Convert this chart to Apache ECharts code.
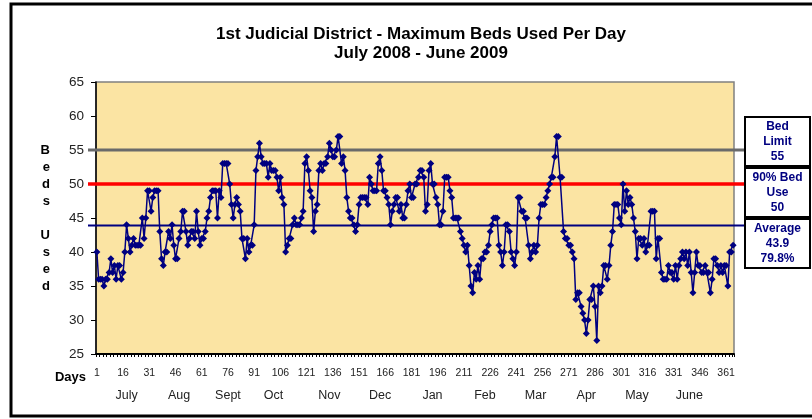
<!DOCTYPE html>
<html>
<head>
<meta charset="utf-8">
<script src="https://cdn.jsdelivr.net/npm/echarts@6/dist/echarts.min.js"></script>
<style>
  html, body { margin: 0; padding: 0; background: #fff; }
  #chart { width: 812px; height: 419px; }
</style>
</head>
<body>
<div id="chart"></div>
<script>
// daily maximum beds used, one array per month (July 2008 - June 2009)
var july  = [40,36,36,36,35,36,36,37,39,37,38,36,38,38,36,37,40,44,42,40,41,42,41,41,41,41,45,42,45,49,49];
var aug   = [46,48,49,49,49,43,39,38,40,40,43,42,44,41,39,39,42,43,46,46,43,41,42,43,43,42,46,43,41,42,42];
var sept  = [43,45,46,48,49,49,49,45,49,48,53,53,53,53,50,47,45,47,48,47,46,42,42,39,42,40,41,41,44,52];
var oct   = [54,56,54,53,53,53,51,53,52,52,52,51,49,51,48,47,40,41,42,42,44,45,44,44,44,45,46,53,54,52,49];
var nov   = [48,43,46,47,52,53,52,53,53,54,56,55,54,54,55,57,57,53,54,52,48,46,45,45,44,43,44,47,48,48];
var dec   = [48,48,47,51,50,49,49,49,53,54,52,49,49,48,47,44,46,47,48,48,46,47,45,45,47,49,50,48,48,50,50];
var jan   = [51,52,52,51,46,47,52,53,50,50,48,47,44,44,46,51,51,51,49,48,45,45,45,45,43,42,41,40,41,38,35];
var feb   = [34,37,36,38,36,39,39,40,40,41,43,44,45,45,45,41,40,38,40,44,44,43,40,39,38,40,48,48];
var mar   = [46,46,45,45,41,39,40,41,40,41,45,47,47,47,48,49,50,51,51,54,57,57,51,51,43,42,42,41,41,40,39];
var apr   = [33,34,34,32,31,30,28,30,33,33,35,32,27,35,34,35,38,38,36,38,41,43,47,47,47,45,44,50,46,49];
var may   = [47,48,47,45,43,39,42,42,41,42,40,41,41,46,46,46,39,42,42,37,36,36,36,38,37,37,36,38,36,38,39];
var june  = [40,39,40,38,40,37,34,37,40,38,38,37,37,38,37,37,34,36,39,39,38,37,38,37,38,38,35,40,40,41];

// month names and the day index under which each one sits
var monthNames = ['July','Aug','Sept','Oct','Nov','Dec','Jan','Feb','Mar','Apr','May','June'];
var monthLabelIdx = [17,47,75,101,133,162,192,222,251,280,309,339];

// reference levels
var bedLimit = 55;
var bedUse90 = 50;
var avgBeds = 43.9;
var avgPct = '79.8%';

var beds = [].concat(july, aug, sept, oct, nov, dec, jan, feb, mar, apr, may, june);
var days = beds.map(function (v, i) { return String(i + 1); });

var FONT = '"Liberation Sans", Arial, sans-serif';
var NAVY = '#000080';

var chart = echarts.init(document.getElementById('chart'), null, { renderer: 'canvas' });

var option = {
  animation: false,
  backgroundColor: '#ffffff',
  title: {
    text: '1st Judicial District - Maximum Beds Used Per Day\nJuly 2008 - June 2009',
    left: 416,
    textAlign: 'center',
    top: 20,
    textStyle: { fontFamily: FONT, fontSize: 17, fontWeight: 'bold', color: '#000', lineHeight: 19 }
  },
  grid: {
    left: 96, right: 78, top: 82, bottom: 65,
    show: true,
    backgroundColor: '#fbe4a3',
    borderColor: '#808080',
    borderWidth: 1.5
  },
  xAxis: [{
    type: 'category',
    data: days,
    boundaryGap: true,
    name: 'Days',
    nameLocation: 'start',
    nameGap: 10,
    nameTextStyle: { fontFamily: FONT, fontSize: 13, fontWeight: 'bold', color: '#000',
      verticalAlign: 'top', padding: [17, 0, 0, 0] },
    axisLine: { lineStyle: { color: '#000', width: 2 } },
    axisTick: { show: true, interval: 1, length: 3, lineStyle: { color: '#000' } },
    axisLabel: { interval: 14, margin: 14, fontFamily: FONT, fontSize: 10.5, color: '#222' },
    splitLine: { show: false }
  }, {
    type: 'category',
    data: days,
    boundaryGap: true,
    position: 'bottom',
    offset: 23,
    axisLine: { show: false },
    axisTick: { show: false },
    axisLabel: {
      margin: 12,
      fontFamily: FONT, fontSize: 12.5, color: '#222',
      interval: function (idx) { return monthLabelIdx.indexOf(idx) >= 0; },
      formatter: function (val, idx) {
        var k = monthLabelIdx.indexOf(idx);
        return k >= 0 ? monthNames[k] : '';
      }
    },
    splitLine: { show: false }
  }],
  yAxis: {
    type: 'value',
    min: 25, max: 65, interval: 5,
    name: 'B\ne\nd\ns\n\nU\ns\ne\nd',
    nameLocation: 'middle',
    nameRotate: 0,
    nameGap: 46,
    nameTextStyle: { fontFamily: FONT, fontSize: 13, fontWeight: 'bold', color: '#000', lineHeight: 17 },
    axisLine: { show: true, lineStyle: { color: '#000', width: 1.5 } },
    axisTick: { show: true, length: 5, lineStyle: { color: '#000' } },
    axisLabel: { margin: 12, fontFamily: FONT, fontSize: 13.5, color: '#222' },
    splitLine: { show: false }
  },
  series: [{
    type: 'line',
    data: beds,
    symbol: 'diamond',
    symbolSize: 7,
    showAllSymbol: true,
    lineStyle: { color: NAVY, width: 1.5 },
    itemStyle: { color: NAVY },
    z: 3
  }]
};

chart.setOption(option);

// reference lines reaching out to the label boxes, placed with the y scale
function refY(v) { return chart.convertToPixel({ yAxisIndex: 0 }, v); }

function refLine(v, color, width) {
  var y = refY(v);
  return { type: 'line', z: 1, silent: true,
    shape: { x1: 88, y1: y, x2: 744, y2: y },
    style: { stroke: color, lineWidth: width } };
}

function labelBox(top, text) {
  return {
    type: 'group', left: 744, top: top, z: 10,
    children: [
      { type: 'rect', shape: { x: 0, y: 0, width: 65, height: 49 },
        style: { fill: '#fff', stroke: '#000', lineWidth: 2 } },
      { type: 'text', x: 32.5, y: 24.5,
        style: { text: text, fill: NAVY, font: 'bold 12px ' + FONT,
          align: 'center', verticalAlign: 'middle', lineHeight: 15 } }
    ]
  };
}

chart.setOption({
  graphic: [
    refLine(bedLimit, '#6a6a6a', 3),
    refLine(bedUse90, '#ff0000', 3.5),
    refLine(avgBeds, NAVY, 2),
    labelBox(116, 'Bed\nLimit\n' + bedLimit),
    labelBox(167, '90% Bed\nUse\n' + bedUse90),
    labelBox(218, 'Average\n' + avgBeds + '\n' + avgPct),
    { type: 'rect', z: 20, silent: true,
      shape: { x: 11, y: 4, width: 830, height: 412 },
      style: { fill: 'none', stroke: '#000', lineWidth: 3 } }
  ]
});
</script>
</body>
</html>
